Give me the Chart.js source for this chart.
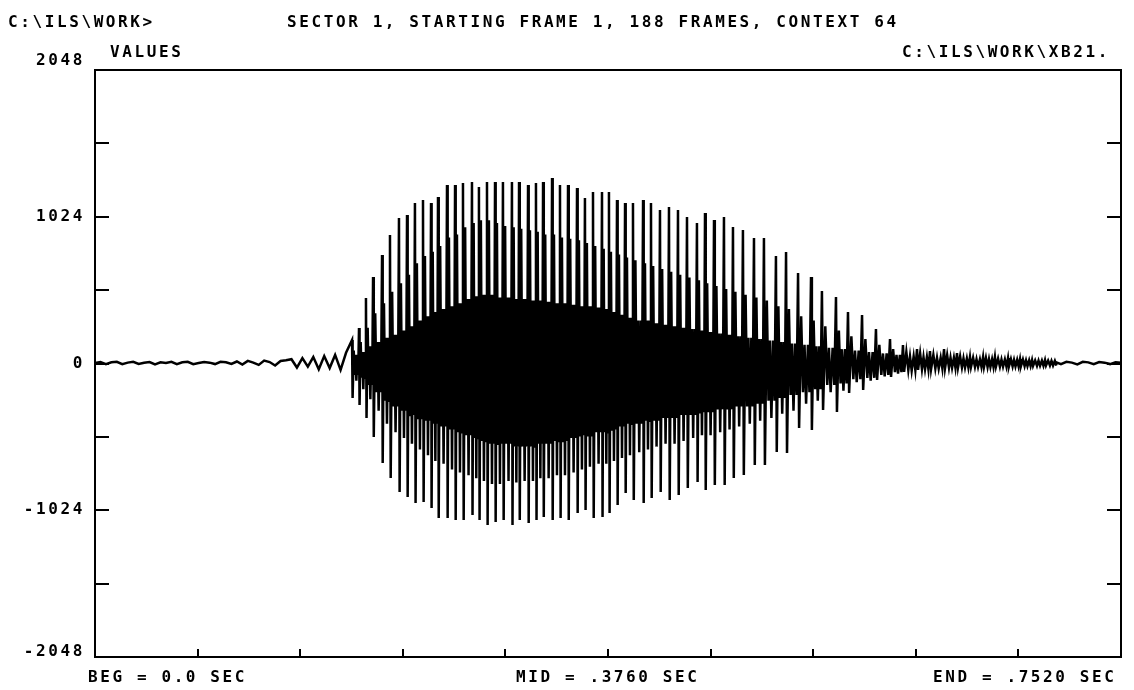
<!DOCTYPE html>
<html><head><meta charset="utf-8">
<script src="https://cdn.jsdelivr.net/npm/chart.js@4/dist/chart.umd.min.js"></script>
<style>html,body{margin:0;padding:0;background:#fff}#wrap{width:1134px;height:690px;position:relative}</style>
</head><body><div id="wrap"><canvas id="c" width="1134" height="690"></canvas></div>
<script>
// ---- data ----
const pulseTimes = [0.1884,0.1935,0.1986,0.2038,0.2104,0.2162,0.2228,0.2287,0.2345,0.2404,
 0.2463,0.2514,0.2580,0.2639,0.2697,0.2763,0.2814,0.2873,0.2932,0.2990,
 0.3056,0.3108,0.3174,0.3232,0.3284,0.3350,0.3408,0.3467,0.3533,0.3591,
 0.3650,0.3716,0.3767,0.3826,0.3885,0.3943,0.4017,0.4075,0.4141,0.4207,
 0.4273,0.4339,0.4412,0.4471,0.4537,0.4610,0.4676,0.4749,0.4830,0.4903,
 0.4991,0.5065,0.5153,0.5248,0.5328,0.5431,0.5519,0.5622,0.5724,0.5827,
 0.5922,0.6025,0.6120,0.6223,0.6318,0.6413,0.6509,0.6596,0.6692,0.6780,
 0.6868,0.6963];
const peakPos = [164,247,457,604,757,897,1015,1036,1120,1141,
 1120,1162,1246,1246,1260,1267,1232,1267,1267,1267,
 1267,1267,1246,1260,1267,1295,1246,1246,1225,1155,
 1197,1197,1197,1141,1120,1120,1141,1120,1071,1092,
 1071,1022,980,1050,1001,1022,952,931,875,875,
 750,778,631,604,506,464,359,338,240,171,
 129,101,87,101,73,45,45,45,38,31,
 24,24];
const peakNeg = [-240,-289,-380,-513,-694,-799,-897,-932,-974,-967,
 -1009,-1078,-1078,-1092,-1092,-1057,-1092,-1127,-1106,-1092,
 -1127,-1092,-1113,-1092,-1071,-1092,-1078,-1092,-1043,-1022,
 -1078,-1071,-1043,-988,-904,-953,-974,-939,-897,-953,
 -918,-869,-827,-883,-848,-848,-799,-778,-708,-708,
 -617,-624,-450,-464,-324,-338,-206,-185,-115,-94,
 -59,-45,-38,-31,-28,-24,-24,-22,-20,-18,
 -16,-14];
const secPos = [90,150,250,350,420,500,560,620,700,750,
 780,820,880,900,950,980,1000,1000,980,960,
 950,940,930,920,900,900,880,870,860,840,
 820,800,780,760,740,720,700,680,660,640,
 620,600,580,560,540,520,500,480,460,440,
 400,380,330,300,260,230,190,170,130,100,
 80,70,60,60,50,40,40,35,30,28,
 22,20];
const secNeg = [-120,-180,-250,-330,-420,-480,-520,-560,-600,-640,
 -680,-700,-740,-760,-780,-800,-820,-840,-840,-820,
 -830,-820,-820,-800,-800,-780,-780,-760,-740,-720,
 -700,-700,-680,-660,-640,-620,-600,-580,-560,-560,
 -540,-520,-500,-500,-480,-460,-440,-420,-400,-380,
 -350,-330,-280,-260,-200,-190,-130,-120,-90,-70,
 -50,-40,-35,-30,-28,-24,-24,-22,-20,-18,
 -16,-14];
const coreTop = [60,80,120,150,180,200,230,260,300,330,
 360,380,400,420,450,470,480,480,460,460,
 450,450,440,440,430,420,420,410,400,400,
 390,380,360,340,320,300,300,280,270,260,
 250,240,230,220,210,200,190,180,170,160,
 150,140,130,120,110,100,90,80,70,60,
 50,45,40,40,35,30,30,28,25,22,
 20,18];
const coreBottom = [-80,-100,-150,-200,-260,-300,-330,-360,-380,-400,
 -420,-440,-460,-480,-500,-520,-540,-560,-560,-560,
 -580,-580,-580,-560,-560,-540,-540,-520,-500,-500,
 -480,-480,-460,-440,-420,-420,-400,-400,-380,-380,
 -360,-360,-340,-340,-320,-320,-300,-300,-280,-260,
 -240,-220,-200,-180,-150,-140,-110,-100,-80,-60,
 -45,-40,-35,-30,-28,-24,-24,-22,-20,-18,
 -16,-14];
const noiseTimesStart = [0,0.004,0.008,0.012,0.016,0.020,0.024,0.028,0.032,0.036,
 0.040,0.044,0.048,0.052,0.056,0.060,0.064,0.068,0.072,0.076,
 0.080,0.084,0.088,0.092,0.096,0.100,0.104,0.108,0.112,0.116,
 0.120,0.124,0.128,0.132,0.136,0.140,0.144,0.148,0.152,0.156,
 0.160,0.164,0.168,0.172,0.176,0.180,0.184];
const noiseStart = [4,10,-4,8,12,-5,6,12,-3,5,
 10,-6,8,4,12,-4,8,12,-5,3,
 10,6,-4,12,9,-3,14,-8,18,6,
 -10,20,10,-14,18,22,30,-28,38,-22,
 45,-40,52,-32,60,-45,75];
const noiseTimesEnd = [0.704,0.708,0.712,0.716,0.720,0.724,0.728,0.732,0.736,0.740,0.744,0.748,0.752];
const noiseEnd = [10,-5,12,6,-6,12,8,-5,10,6,-4,9,5];

const yTickValues = [-2048,-1536,-1024,-512,0,512,1024,1536,2048];
const yLabelValues = [2048,1024,0,-1024,-2048];
const xTickValues = [0.0752,0.1504,0.2256,0.3008,0.376,0.4512,0.5264,0.6016,0.6768];
const headerLeft = "C:\\ILS\\WORK>";
const titleText = "SECTOR 1, STARTING FRAME 1, 188 FRAMES, CONTEXT 64";
const yAxisName = "VALUES";
const fileName = "C:\\ILS\\WORK\\XB21.";
const begText = "BEG = 0.0 SEC";
const midText = "MID = .3760 SEC";
const endText = "END = .7520 SEC";

// ---- build library table: one polyline through each pulse's read extremes ----
const wave = [];
noiseTimesStart.forEach((t,i)=>wave.push({x:t,y:noiseStart[i]}));
const frac = [0,0.08,0.24,0.38,0.5,0.62,0.76,0.88];
pulseTimes.forEach((t,i)=>{
  const T = i < pulseTimes.length-1 ? pulseTimes[i+1]-t : t-pulseTimes[i-1];
  const vals = [peakPos[i],peakNeg[i],secPos[i],coreBottom[i],coreTop[i],secNeg[i],coreTop[i],coreBottom[i]];
  vals.forEach((v,k)=>wave.push({x:t+frac[k]*T,y:v}));
});
noiseTimesEnd.forEach((t,i)=>wave.push({x:t,y:noiseEnd[i]}));

const FONT = 'bold 16px "DejaVu Sans Mono"';
const framePlugin = {
  id:'frame',
  afterDatasetsDraw(chart){
    const {ctx, chartArea:a, scales:{x,y}} = chart;
    ctx.save();
    ctx.strokeStyle='#000'; ctx.lineWidth=2;
    ctx.strokeRect(a.left, a.top, a.right-a.left, a.bottom-a.top);
    ctx.beginPath();
    yTickValues.forEach(v=>{
      const py = Math.round(y.getPixelForValue(v));
      ctx.moveTo(a.left, py); ctx.lineTo(a.left+14, py);
      ctx.moveTo(a.right, py); ctx.lineTo(a.right-14, py);
    });
    xTickValues.forEach(v=>{
      const px = Math.round(x.getPixelForValue(v));
      ctx.moveTo(px, a.bottom); ctx.lineTo(px, a.bottom-8);
    });
    ctx.stroke();
    ctx.fillStyle='#000';
    ctx.font = FONT;
    try{ ctx.letterSpacing='2.6px'; }catch(e){}
    ctx.textBaseline='middle'; ctx.textAlign='right';
    yLabelValues.forEach(v=>{
      let py = y.getPixelForValue(v);
      if (v===2048) py -= 9;
      if (v===-2048) py -= 5;
      ctx.fillText(String(v), 85, py);
    });
    ctx.textAlign='left'; ctx.textBaseline='alphabetic';
    ctx.fillText(headerLeft, 8, 27);
    ctx.fillText(titleText, 287, 27);
    ctx.fillText(yAxisName, 110, 57);
    ctx.fillText(fileName, 902, 57);
    ctx.fillText(begText, 88, 682);
    ctx.fillText(midText, 516, 682);
    ctx.fillText(endText, 933, 682);
    ctx.restore();
  }
};

new Chart(document.getElementById('c'), {
  type:'line',
  data:{datasets:[
    {data:wave, fill:false, borderColor:'#000', borderWidth:2.5, pointRadius:0, tension:0}
  ]},
  options:{
    responsive:false, animation:false,
    layout:{padding:{left:95,right:13,top:70,bottom:33}},
    plugins:{legend:{display:false},tooltip:{enabled:false},title:{display:false}},
    scales:{
      x:{type:'linear',min:0,max:0.752,display:false},
      y:{type:'linear',min:-2048,max:2048,display:false}
    }
  },
  plugins:[framePlugin]
});
</script></body></html>
